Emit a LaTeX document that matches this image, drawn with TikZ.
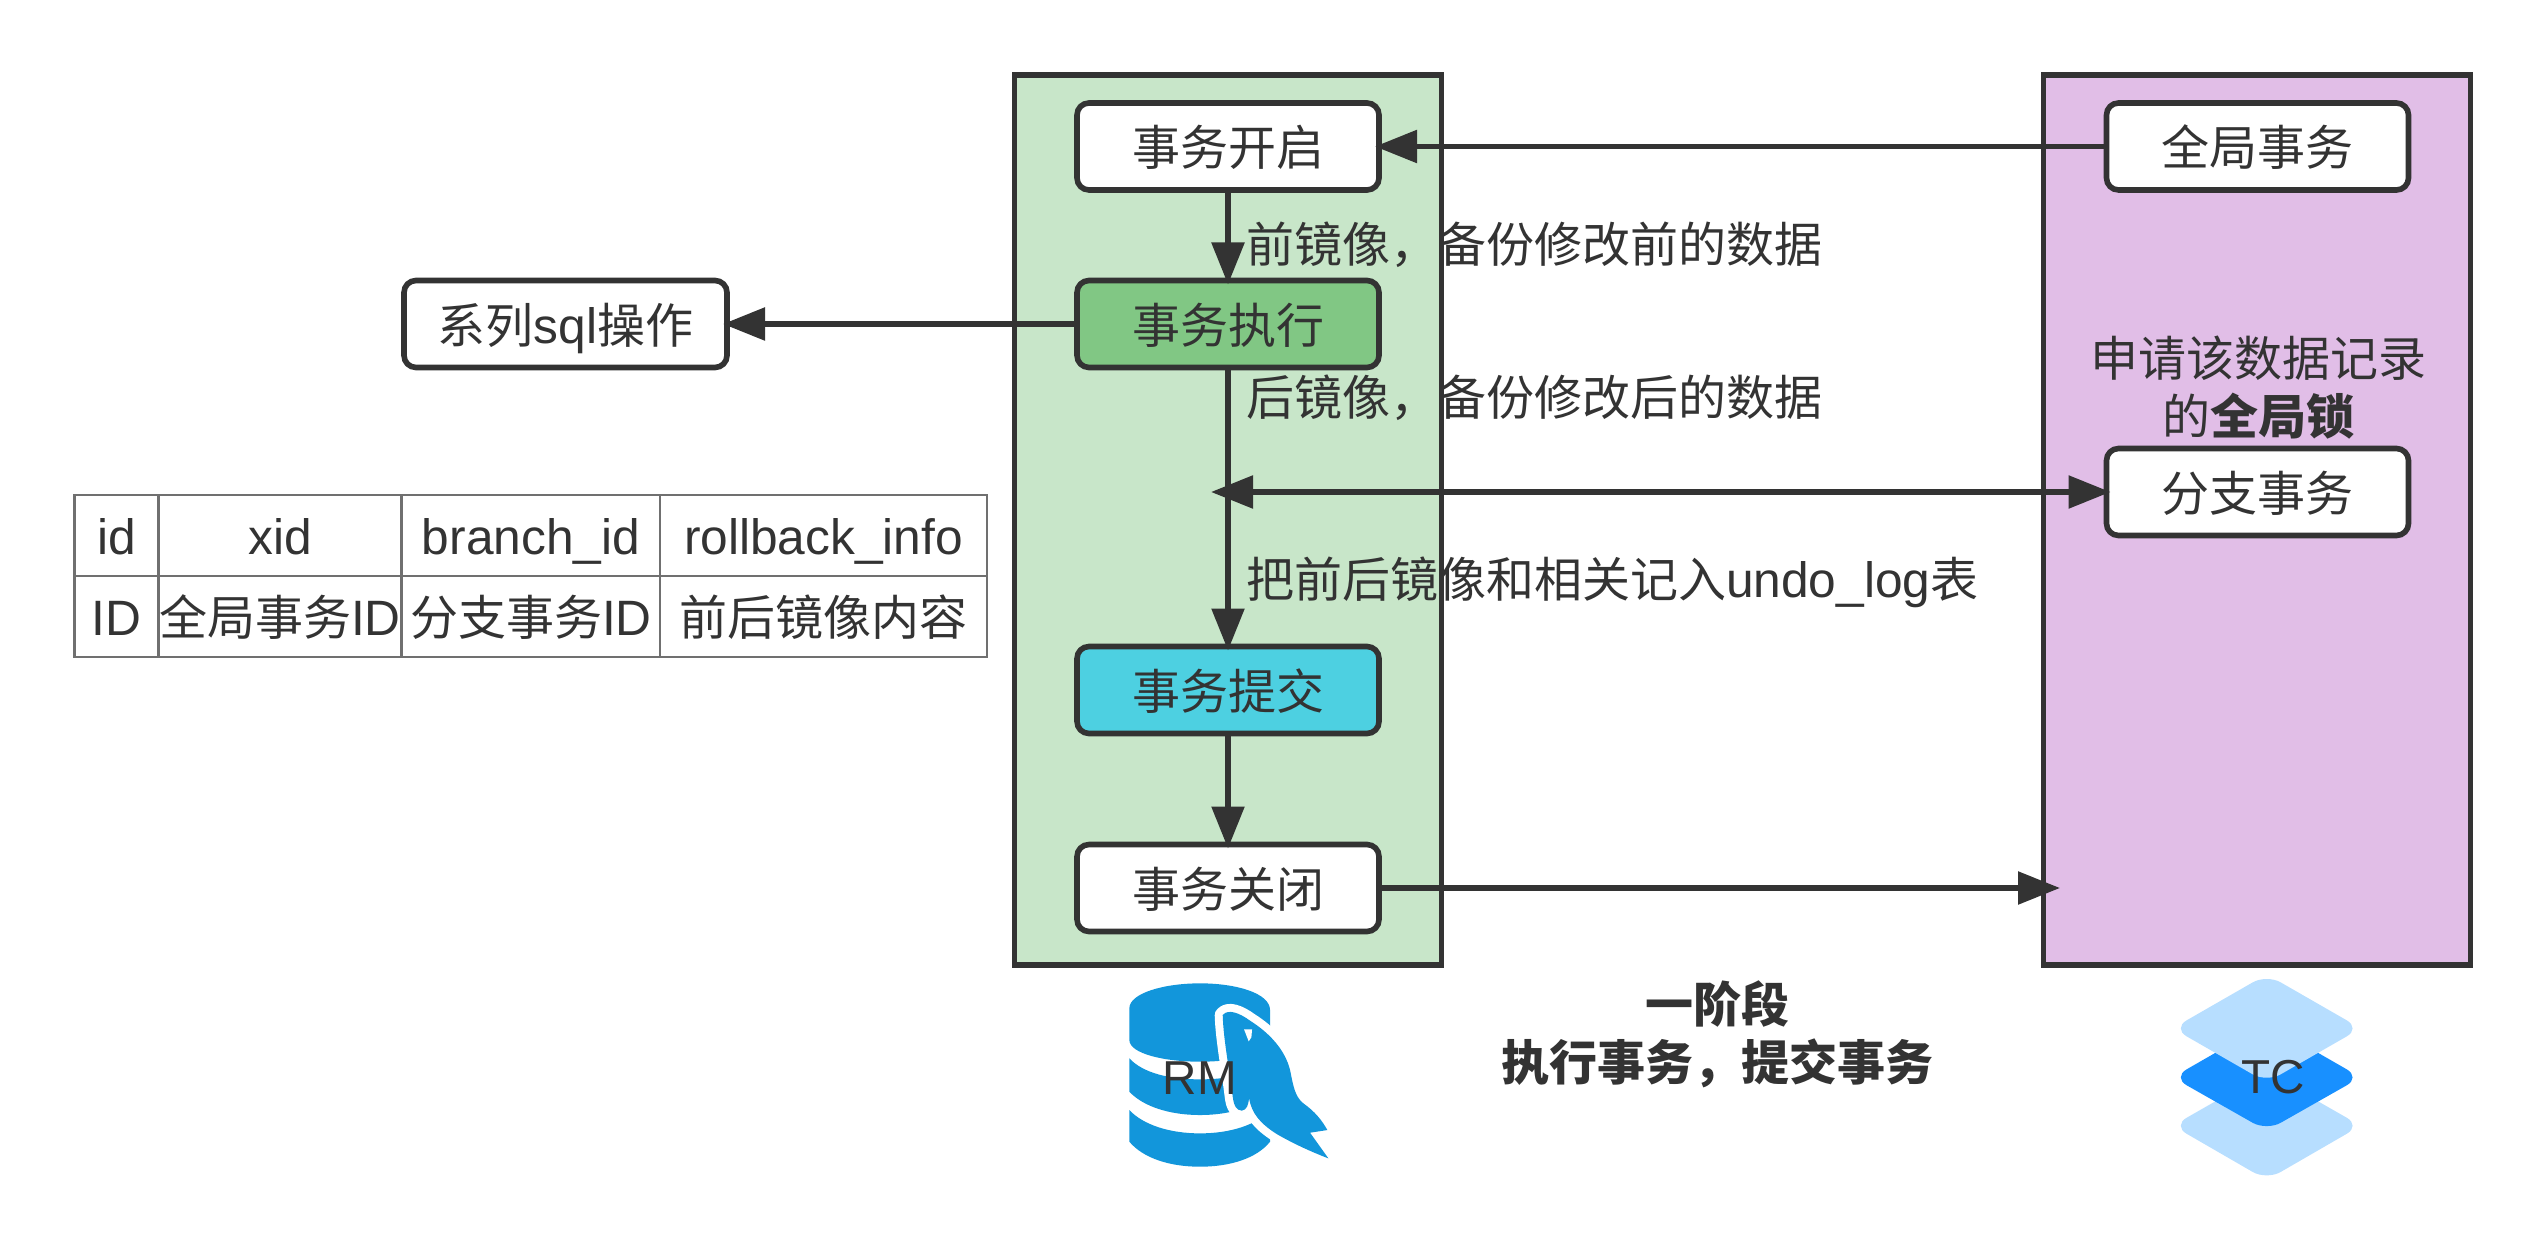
\documentclass[tikz,border=0pt]{standalone}
\usepackage{fontspec}
\setmainfont[Scale=1.035]{Liberation Sans}
\newfontfamily\cjk{Noto Sans CJK SC}
\newcommand{\zh}[1]{{\cjk #1}}
\usetikzlibrary{arrows.meta}
\definecolor{inkc}{HTML}{333333}
\definecolor{rmfill}{HTML}{C8E6C9}
\definecolor{tcfill}{HTML}{E1BEE7}
\definecolor{execfill}{HTML}{81C784}
\definecolor{commitfill}{HTML}{4DD0E1}
\definecolor{sqlblue}{HTML}{1296DB}
\definecolor{tclight}{HTML}{B7DEFF}
\definecolor{tcdark}{HTML}{1890FF}
\tikzset{
    every node/.style={text=inkc, font=\fontsize{24}{29}\selectfont, outer sep=0pt, inner sep=0pt},
    tline/.style={text height=21.4pt, text depth=2pt},
    party/.style={draw=inkc, line width=2.8pt, minimum width=#1, minimum height=445pt},
    txbox/.style={tline, draw=inkc, line width=2.8pt, rounded corners=6pt, fill=white,
        minimum width=151pt, minimum height=43.5pt},
    cell/.style={tline, draw=black!56, line width=1.3pt, minimum height=40.5pt},
    note/.style={tline, anchor=west},
    flow/.style={draw=inkc, line width=2.8pt, shorten >=-2pt, -{Triangle[length=21pt,width=16pt]}},
}
\begin{document}
\begin{tikzpicture}[x=0.5pt, y=-0.5pt]
    \useasboundingbox (0,0) rectangle (2545,1257);
    % the two parties
    \node[party=213.5pt, fill=rmfill] (rm) at (1228,520) {};
    \node[party=213.5pt, fill=tcfill] (tc) at (2257,520) {};
    % rm steps
    \node[txbox] (open) at (1228,146.5) {\zh{事务开启}};
    \node[txbox, fill=execfill] (exec) at (1228,324) {\zh{事务执行}};
    \node[txbox, fill=commitfill] (commit) at (1228,690) {\zh{事务提交}};
    \node[txbox] (close) at (1228,888) {\zh{事务关闭}};
    % tc steps
    \node[txbox] (glob) at (2257.5,146.5) {\zh{全局事务}};
    \node[txbox] (branch) at (2257.5,492) {\zh{分支事务}};
    \node[txbox, minimum width=161.5pt] (sql) at (565.5,324) {\zh{系列}sql\zh{操作}};
    % free ends
    \coordinate (rmjoin) at (1211,492);
    \coordinate (tcend) at (2056,888);
    \draw[flow] (glob) -- (open);
    \draw[flow] (open) -- (exec);
    \draw[flow] (exec) -- (commit);
    \draw[flow] (commit) -- (close);
    \draw[flow] (exec) -- (sql);
    \draw[flow] (close) -- (tcend);
    \draw[flow, {Triangle[length=21pt,width=16pt]}-{Triangle[length=21pt,width=16pt]}] (rmjoin) -- (branch);
    % labels
    \node[note] (before) at (1246,243) {\zh{前镜像，备份修改前的数据}};
    \node[note] (after) at (1246,396) {\zh{后镜像，备份修改后的数据}};
    \node[note] (undo) at (1246,578) {\zh{把前后镜像和相关记入}undo\_log\zh{表}};
    \node[align=center] (lock) at (2258,388) {\zh{申请该数据记录}\\\zh{的\textbf{全局锁}}};
    \node[align=center] (phase) at (1717,1034) {\zh{\textbf{一阶段}}\\\zh{\textbf{执行事务，提交事务}}};
    % undo_log table
    \foreach[count=\i] \cx/\cw/\top/\bot in {116.5/84/id/ID, 280/243/xid/\zh{全局事务}ID,
        531/258/branch\_id/\zh{分支事务}ID, 823.5/327/rollback\_info/\zh{前后镜像内容}} {
        \node[cell, minimum width=\cw*0.5pt] (head-\i) at (\cx,535.5) {\top};
        \node[cell, minimum width=\cw*0.5pt] (row-\i) at (\cx,616.5) {\bot};
    }
    % rm icon
    \begin{scope}[shift={(1050,950)}, x=0.1667pt, y=-0.1667pt]
        \fill[sqlblue] (238,175) .. controls (238,130) and (340,100) .. (450,100)
            .. controls (560,100) and (660,130) .. (660,180) -- (660,270)
            .. controls (660,310) and (560,335) .. (450,335)
            .. controls (340,335) and (238,310) .. (238,270) -- cycle;
        \fill[sqlblue] (238,325) .. controls (280,370) and (360,388) .. (450,388)
            .. controls (540,388) and (620,370) .. (660,325) -- (660,425)
            .. controls (620,470) and (540,495) .. (450,495)
            .. controls (360,495) and (280,470) .. (238,425) -- cycle;
        \fill[sqlblue] (238,480) .. controls (280,525) and (360,550) .. (450,550)
            .. controls (540,550) and (620,525) .. (660,480) -- (660,575)
            .. controls (620,625) and (540,650) .. (450,650)
            .. controls (360,650) and (280,625) .. (238,575) -- cycle;
        \path[fill=sqlblue, preaction={draw=white, line width=8pt, line join=round}]
            (518,195) .. controls (535,175) and (570,190) .. (600,212)
            .. controls (660,250) and (705,300) .. (720,360)
            .. controls (730,410) and (735,440) .. (760,460)
            .. controls (795,485) and (815,510) .. (832,540) -- (780,548) -- (835,625)
            .. controls (770,600) and (720,575) .. (680,552)
            .. controls (630,520) and (605,490) .. (597,445)
            .. controls (595,465) and (590,480) .. (575,482)
            .. controls (560,480) and (552,470) .. (548,440)
            .. controls (540,370) and (520,270) .. (518,195) -- cycle;
        \fill[white] (582,238) -- (606,238) -- (604,262) -- (596,274) -- cycle;
    \end{scope}
    % tc icon
    \tikzset{layer/.style={rounded corners=8pt}}
    \begin{scope}[shift={(2130,960)}, x=0.1667pt, y=-0.1667pt]
        \fill[tclight, layer] (410,336) -- (692,497) -- (410,660) -- (128,497) -- cycle;
        \fill[tcdark, layer] (410,190) -- (692,352) -- (410,512) -- (128,352) -- cycle;
        \fill[tclight, layer] (410,43) -- (692,205) -- (410,367) -- (128,205) -- cycle;
    \end{scope}
    \node[font=\fontsize{23}{28}\selectfont] (rmname) at (1200,1078) {RM};
    \node[font=\fontsize{23}{28}\selectfont] (tcname) at (2273,1077) {TC};
\end{tikzpicture}
\end{document}
